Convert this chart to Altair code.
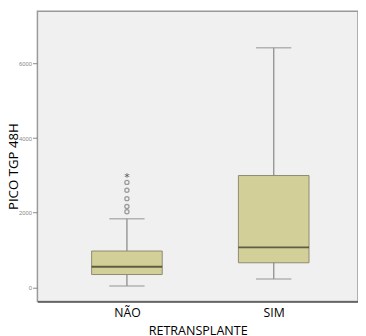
import altair as alt
import pandas as pd

categories = ["NÃO", "SIM"]
whisker_low = [37, 221]
q1 = [342, 657]
median = [552, 1070]
q3 = [972, 2996]
whisker_high = [1840, 6423]

outlier_cat = ["NÃO", "NÃO", "NÃO", "NÃO", "NÃO"]
outlier_val = [2812, 2602, 2376, 2165, 2024]
extreme_cat = ["NÃO"]
extreme_val = [3006]

y_ticks = [0, 2000, 4000, 6000]

box_df = pd.DataFrame({
    "cat": categories, "lo": whisker_low, "q1": q1,
    "med": median, "q3": q3, "hi": whisker_high,
})
out_df = pd.DataFrame({"cat": outlier_cat, "v": outlier_val})
ext_df = pd.DataFrame({"cat": extreme_cat, "v": extreme_val})

xscale = alt.Scale(type="point", domain=categories, padding=0.592, align=0.515)
yscale = alt.Scale(domain=[-380, 7400], nice=False, zero=False)

x_enc = alt.X("cat:N", scale=xscale, sort=categories,
              axis=alt.Axis(title="RETRANSPLANTE", labelAngle=0, ticks=False,
                            labelFontSize=12.5, labelColor="#000", labelPadding=5,
                            labelFont="Open Sans", titleFont="Open Sans",
                            titleFontSize=12.8, titleFontWeight="normal",
                            titlePadding=6, titleColor="#000",
                            domainColor="#555", domainWidth=1.5))
y_axis = alt.Axis(title="PICO TGP 48H", values=y_ticks, grid=False, format="d",
                  labelFontSize=6, labelColor="#888", tickColor="#888",
                  tickSize=5, labelPadding=1, domain=False,
                  titleFont="Open Sans", titleFontSize=13.5,
                  titleFontWeight="normal", titleColor="#000",
                  titleX=-24, titleY=158, titleBaseline="middle",
                  titleAlign="center", titleAngle=270)

base = alt.Chart(box_df)
xs = alt.X("cat:N", scale=xscale, sort=categories)

whisk = base.mark_rule(color="#999", strokeWidth=1.5).encode(
    x=x_enc,
    y=alt.Y("lo:Q", scale=yscale, axis=y_axis),
    y2="hi:Q",
)
caps_lo = base.mark_tick(color="#999", size=36, thickness=1.5, orient="horizontal").encode(
    x=xs, y=alt.Y("lo:Q", scale=yscale))
caps_hi = base.mark_tick(color="#999", size=36, thickness=1.5, orient="horizontal").encode(
    x=xs, y=alt.Y("hi:Q", scale=yscale))
box = base.mark_bar(size=72, color="#D3CF98", stroke="#8C8A70", strokeWidth=1).encode(
    x=xs, y=alt.Y("q1:Q", scale=yscale), y2="q3:Q")
med = base.mark_tick(color="#2E2E20", size=72, thickness=2, orient="horizontal").encode(
    x=xs, y=alt.Y("med:Q", scale=yscale))
outl = alt.Chart(out_df).mark_point(shape="circle", size=18, filled=False,
                                    color="#777", strokeWidth=1.3).encode(
    x=xs, y=alt.Y("v:Q", scale=yscale))
ext = alt.Chart(ext_df).mark_text(text="*", fontSize=11, color="#555", dy=3,
                                  font="DejaVu Sans").encode(
    x=xs, y=alt.Y("v:Q", scale=yscale))

chart = alt.layer(whisk, caps_lo, caps_hi, box, med, outl, ext).properties(
    width=327, height=296,
    padding={"left": 30, "top": 0, "right": 0, "bottom": 36},
    autosize=alt.AutoSizeParams(type="none"),
).configure_view(fill="#F0F0F0", stroke="#999", strokeWidth=1.5)

chart.save("out.html", embed_options={"renderer": "svg", "actions": False})
